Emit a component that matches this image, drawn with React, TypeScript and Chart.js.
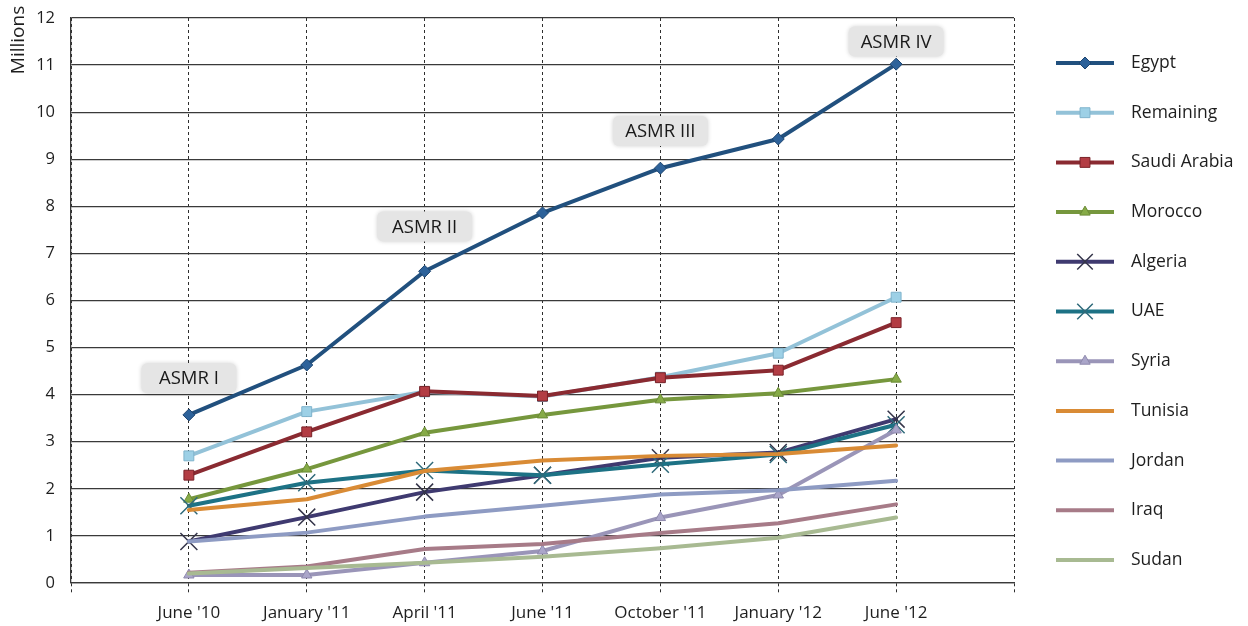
import React, { useEffect, useRef } from 'react';
import { Chart, registerables } from 'chart.js';
import { drawPoint } from 'chart.js/helpers';

Chart.register(...registerables);

// Survey periods; the blank slots at both ends pad the axis.
const periods = ['', "June '10", "January '11", "April '11", "June '11", "October '11", "January '12", "June '12", ''];
const surveyPeriods = periods.slice(1, 8);

// Users, in millions
const egypt = [3.57, 4.63, 6.62, 7.86, 8.81, 9.43, 11.02];
const remaining = [2.7, 3.64, 4.06, 3.96, 4.37, 4.88, 6.07];
const saudiArabia = [2.29, 3.21, 4.07, 3.97, 4.36, 4.52, 5.53];
const morocco = [1.78, 2.42, 3.19, 3.57, 3.89, 4.03, 4.33];
const algeria = [0.88, 1.4, 1.93, 2.29, 2.66, 2.77, 3.48];
const uae = [1.64, 2.13, 2.39, 2.29, 2.52, 2.73, 3.36];
const syria = [0.17, 0.17, 0.43, 0.68, 1.39, 1.87, 3.25];
const tunisia = [1.55, 1.78, 2.38, 2.6, 2.7, 2.74, 2.92];
const jordan = [0.88, 1.07, 1.41, 1.64, 1.88, 1.97, 2.17];
const iraq = [0.22, 0.35, 0.72, 0.83, 1.06, 1.27, 1.67];
const sudan = [0.2, 0.32, 0.43, 0.56, 0.74, 0.96, 1.39];

// Survey round call-outs
const roundNames = ['ASMR I', 'ASMR II', 'ASMR III', 'ASMR IV'];
const roundPeriods = ["June '10", "April '11", "October '11", "June '12"];
const roundLevels = [4.35, 7.57, 9.6, 11.5];

const FONT = '"Open Sans", Lato, sans-serif';

type Series = {
  label: string;
  values: number[];
  color: string;
  pointStyle: string | false;
  pointRadius: number;
  pointFill: string;
  pointBorder: string;
  pointBorderWidth: number;
};

const series: Series[] = [
  { label: 'Egypt', values: egypt, color: '#21507e', pointStyle: 'rectRot', pointRadius: 6, pointFill: '#2d629a', pointBorder: '#1d4570', pointBorderWidth: 1 },
  { label: 'Remaining', values: remaining, color: '#93c2d8', pointStyle: 'rect', pointRadius: 7, pointFill: '#9dd0e6', pointBorder: '#7fb3cc', pointBorderWidth: 1 },
  { label: 'Saudi Arabia', values: saudiArabia, color: '#8a2a31', pointStyle: 'rect', pointRadius: 7, pointFill: '#b33d44', pointBorder: '#7a2228', pointBorderWidth: 1 },
  { label: 'Morocco', values: morocco, color: '#76973d', pointStyle: 'triangle', pointRadius: 6, pointFill: '#86ab47', pointBorder: '#6a8a35', pointBorderWidth: 1 },
  { label: 'Algeria', values: algeria, color: '#3f3a70', pointStyle: 'crossRot', pointRadius: 12, pointFill: '#35354a', pointBorder: '#35354a', pointBorderWidth: 1.5 },
  { label: 'UAE', values: uae, color: '#1d7285', pointStyle: 'crossRot', pointRadius: 12, pointFill: '#2f6a7a', pointBorder: '#2f6a7a', pointBorderWidth: 1.5 },
  { label: 'Syria', values: syria, color: '#9a95b8', pointStyle: 'triangle', pointRadius: 6, pointFill: '#aaa5c9', pointBorder: '#8e89ad', pointBorderWidth: 1 },
  { label: 'Tunisia', values: tunisia, color: '#d98b35', pointStyle: false, pointRadius: 0, pointFill: '#d98b35', pointBorder: '#d98b35', pointBorderWidth: 0 },
  { label: 'Jordan', values: jordan, color: '#8e9bc3', pointStyle: false, pointRadius: 0, pointFill: '#8e9bc3', pointBorder: '#8e9bc3', pointBorderWidth: 0 },
  { label: 'Iraq', values: iraq, color: '#a77b88', pointStyle: false, pointRadius: 0, pointFill: '#a77b88', pointBorder: '#a77b88', pointBorderWidth: 0 },
  { label: 'Sudan', values: sudan, color: '#a8ba92', pointStyle: false, pointRadius: 0, pointFill: '#a8ba92', pointBorder: '#a8ba92', pointBorderWidth: 0 },
];

// Legend geometry on the right-hand side
const LEGEND_LINE_X = 1056;
const LEGEND_LINE_W = 58;
const LEGEND_TEXT_X = 1131;
const LEGEND_TOP = 63;
const LEGEND_STEP = 49.7;

const sideLegend = {
  id: 'sideLegend',
  afterDraw(chart: any) {
    const ctx = chart.ctx as CanvasRenderingContext2D;
    ctx.save();
    series.forEach((s, i) => {
      const y = LEGEND_TOP + i * LEGEND_STEP;
      ctx.strokeStyle = s.color;
      ctx.lineWidth = 4;
      ctx.lineCap = 'butt';
      ctx.beginPath();
      ctx.moveTo(LEGEND_LINE_X, y);
      ctx.lineTo(LEGEND_LINE_X + LEGEND_LINE_W, y);
      ctx.stroke();
      if (s.pointStyle) {
        ctx.fillStyle = s.pointFill;
        ctx.strokeStyle = s.pointBorder;
        ctx.lineWidth = s.pointBorderWidth;
        const r = s.pointStyle === 'crossRot' ? 11 : s.pointRadius;
        drawPoint(ctx, { pointStyle: s.pointStyle as any, rotation: 0, radius: r, borderWidth: s.pointBorderWidth }, LEGEND_LINE_X + LEGEND_LINE_W / 2, y);
      }
      ctx.fillStyle = '#1e1e1e';
      ctx.font = `17.5px ${FONT}`;
      ctx.textAlign = 'left';
      ctx.textBaseline = 'middle';
      ctx.fillText(s.label, LEGEND_TEXT_X, y);
    });
    ctx.restore();
  },
};

const axisTitle = {
  id: 'axisTitle',
  afterDraw(chart: any) {
    const ctx = chart.ctx as CanvasRenderingContext2D;
    ctx.save();
    ctx.translate(19, 40);
    ctx.rotate(-Math.PI / 2);
    ctx.fillStyle = '#1e1e1e';
    ctx.font = `19px ${FONT}`;
    ctx.textAlign = 'center';
    ctx.textBaseline = 'middle';
    ctx.fillText('Millions', 0, 0);
    ctx.restore();
  },
};

const roundCallouts = {
  id: 'roundCallouts',
  afterDatasetsDraw(chart: any) {
    const ctx = chart.ctx as CanvasRenderingContext2D;
    const xs = chart.scales.x;
    const ys = chart.scales.y;
    ctx.save();
    ctx.font = `18.5px ${FONT}`;
    roundNames.forEach((name, i) => {
      const cx = xs.getPixelForValue(periods.indexOf(roundPeriods[i]));
      const cy = ys.getPixelForValue(roundLevels[i]);
      const w = 95;
      const h = 30;
      ctx.save();
      ctx.shadowColor = 'rgba(0,0,0,0.18)';
      ctx.shadowBlur = 4;
      ctx.fillStyle = '#e5e5e5';
      ctx.beginPath();
      (ctx as any).roundRect(cx - w / 2, cy - h / 2, w, h, 6);
      ctx.fill();
      ctx.restore();
      ctx.fillStyle = '#1a1a1a';
      ctx.textAlign = 'center';
      ctx.textBaseline = 'middle';
      ctx.fillText(name, cx, cy + 1);
    });
    ctx.restore();
  },
};

export default function App() {
  const canvasRef = useRef<HTMLCanvasElement | null>(null);

  useEffect(() => {
    if (!canvasRef.current) return;
    Chart.defaults.font.family = FONT;
    const chart = new Chart(canvasRef.current, {
      type: 'line',
      data: {
        labels: periods,
        datasets: series.map((s, i) => ({
          label: s.label,
          data: s.values.map((v, k) => ({ x: surveyPeriods[k], y: v })),
          borderColor: s.color,
          backgroundColor: s.pointFill,
          borderWidth: 4,
          tension: 0,
          borderJoinStyle: 'round' as const,
          borderCapStyle: 'round' as const,
          pointStyle: (s.pointStyle || 'circle') as any,
          pointRadius: s.pointRadius,
          pointHoverRadius: s.pointRadius,
          pointBackgroundColor: s.pointFill,
          pointBorderColor: s.pointBorder,
          pointBorderWidth: s.pointBorderWidth,
          order: -i,
          fill: false,
        })),
      },
      options: {
        animation: false,
        responsive: true,
        maintainAspectRatio: false,
        layout: { padding: { top: 18, right: 234, bottom: 0, left: 0 } },
        plugins: {
          legend: { display: false },
          tooltip: { enabled: false },
        },
        scales: {
          x: {
            type: 'category',
            offset: false,
            grid: {
              color: '#2e2e2e',
              lineWidth: 1,
              drawTicks: true,
              tickLength: 10,
              tickBorderDash: [3, 3],
            },
            border: { display: true, color: '#3a3a3a', width: 1.3, dash: [3, 3] },
            ticks: {
              color: '#1e1e1e',
              font: { size: 17, family: FONT },
              padding: 10,
              autoSkip: false,
              maxRotation: 0,
            },
            afterFit: (scale: any) => {
              scale.height = 43;
              scale.paddingLeft = 0;
              scale.paddingRight = 0;
            },
          },
          y: {
            min: 0,
            max: 12,
            grid: { color: '#3a3a3a', lineWidth: 1.2, drawTicks: false },
            border: { display: true, color: '#3a3a3a', width: 1.3 },
            ticks: {
              stepSize: 1,
              color: '#1e1e1e',
              font: { size: 16.5, family: FONT },
              padding: 16,
            },
            afterFit: (scale: any) => {
              scale.width = 71;
              scale.paddingTop = 0;
              scale.paddingBottom = 0;
            },
          },
        },
      },
      plugins: [roundCallouts, sideLegend, axisTitle],
    });
    return () => chart.destroy();
  }, []);

  return (
    <div style={{ position: 'fixed', left: 0, top: 0, width: 1248, height: 626, background: '#ffffff' }}>
      <canvas ref={canvasRef} />
    </div>
  );
}
